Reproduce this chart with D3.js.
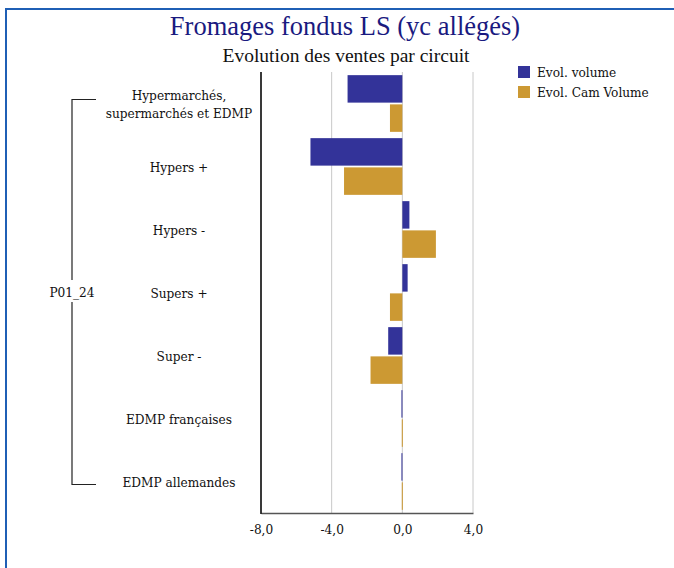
<!DOCTYPE html>
<html>
<head>
<meta charset="utf-8">
<script src="https://cdn.jsdelivr.net/npm/d3@7"></script>
<style>
  html, body { margin: 0; padding: 0; background: #fff; }
  svg { display: block; }
</style>
</head>
<body>
<svg id="chart" width="674" height="568"></svg>
<script>
// Sales evolution by distribution channel
const categories = [
  ["Hypermarchés,", "supermarchés et EDMP"],
  ["Hypers +"],
  ["Hypers -"],
  ["Supers +"],
  ["Super -"],
  ["EDMP françaises"],
  ["EDMP allemandes"]
];
const seriesNames = ["Evol. volume", "Evol. Cam Volume"];
const evolVolume    = [-3.1, -5.2, 0.4, 0.3, -0.8, -0.05, -0.05];
const evolCamVolume = [-0.7, -3.3, 1.9, -0.7, -1.8, -0.03, -0.03];
const xTicks = [-8, -4, 0, 4];
const groupLabel = "P01_24";
const colors = ["#333399", "#CC9933"];

const svg = d3.select("#chart");
const serif = "'Liberation Serif', 'DejaVu Serif', serif";
const labelFont = "'DejaVu Serif Condensed', 'DejaVu Serif', serif";

// Frame
svg.append("path")
  .attr("d", "M6,568 V9 H674")
  .attr("fill", "none")
  .attr("stroke", "#1f5fb5")
  .attr("stroke-width", 2);

// Titles
svg.append("text")
  .attr("x", 345).attr("y", 35)
  .attr("text-anchor", "middle")
  .attr("font-family", serif)
  .attr("font-size", 26.5)
  .attr("fill", "#1a1a80")
  .text("Fromages fondus LS (yc allégés)");
svg.append("text")
  .attr("x", 346).attr("y", 62)
  .attr("text-anchor", "middle")
  .attr("font-family", serif)
  .attr("font-size", 19.5)
  .attr("fill", "#111")
  .text("Evolution des ventes par circuit");

const plot = { left: 261, right: 473, top: 72, bottom: 513 };

const x = d3.scaleLinear().domain([-8, 4]).range([plot.left, plot.right]);
const y = d3.scaleBand().domain(d3.range(categories.length))
  .range([plot.top, plot.bottom]).paddingInner(0.1).paddingOuter(0.05);
const ySub = d3.scaleBand().domain([0, 1]).range([0, y.bandwidth()]).paddingInner(0.06);

// Vertical gridlines
svg.append("g")
  .selectAll("line")
  .data(xTicks)
  .join("line")
  .attr("x1", d => x(d)).attr("x2", d => x(d))
  .attr("y1", plot.top).attr("y2", plot.bottom)
  .attr("stroke", "#c8c8c8")
  .attr("stroke-width", 1);

// Bars
const series = [evolVolume, evolCamVolume];
series.forEach((vals, s) => {
  svg.append("g")
    .selectAll("rect")
    .data(vals)
    .join("rect")
    .attr("x", d => Math.min(x(0), x(d)))
    .attr("width", d => Math.max(1, Math.abs(x(d) - x(0))))
    .attr("y", (d, i) => y(i) + ySub(s))
    .attr("height", ySub.bandwidth())
    .attr("fill", colors[s]);
});

// X axis
const xAxis = d3.axisBottom(x)
  .tickValues(xTicks)
  .tickSize(0)
  .tickPadding(11)
  .tickFormat(d => d3.format(".1f")(d).replace(".", ",").replace("−", "-"));
const gx = svg.append("g")
  .attr("transform", `translate(0,${plot.bottom})`)
  .call(xAxis);
gx.select(".domain").attr("stroke", "#555").attr("stroke-width", 1.5);
gx.selectAll("text")
  .attr("font-family", labelFont)
  .attr("font-size", 13.5)
  .attr("fill", "#111");

// Y axis line
svg.append("line")
  .attr("x1", plot.left).attr("x2", plot.left)
  .attr("y1", plot.top).attr("y2", plot.bottom + 1)
  .attr("stroke", "#000").attr("stroke-width", 1.5);

// Category labels
const labelX = 179;
const catLabels = svg.append("g")
  .attr("font-family", labelFont)
  .attr("font-size", 13.5)
  .attr("fill", "#111")
  .attr("text-anchor", "middle");
categories.forEach((lines, i) => {
  const cy = y(i) + y.bandwidth() / 2;
  const t = catLabels.append("text").attr("x", labelX);
  const lh = 18;
  lines.forEach((ln, k) => {
    t.append("tspan")
      .attr("x", labelX)
      .attr("y", cy + 5 + (k - (lines.length - 1) / 2) * lh)
      .text(ln);
  });
});

// Group bracket
const bTop = y(0) + y.bandwidth() / 2 - 4;
const bBot = y(categories.length - 1) + y.bandwidth() / 2 + 3;
const bMid = (bTop + bBot) / 2;
const bx = 72;
svg.append("path")
  .attr("d", `M96,${bTop} H${bx} V${bMid - 12} M${bx},${bMid + 10} V${bBot} H96`)
  .attr("fill", "none")
  .attr("stroke", "#222")
  .attr("stroke-width", 1.2);
svg.append("text")
  .attr("x", bx).attr("y", bMid + 5)
  .attr("text-anchor", "middle")
  .attr("font-family", labelFont)
  .attr("font-size", 13.5)
  .attr("fill", "#111")
  .text(groupLabel);

// Legend
const legend = svg.append("g").attr("transform", "translate(518,66)");
seriesNames.forEach((name, i) => {
  const g = legend.append("g").attr("transform", `translate(0,${i * 20})`);
  g.append("rect").attr("width", 12).attr("height", 12).attr("fill", colors[i]);
  g.append("text")
    .attr("x", 19).attr("y", 11)
    .attr("font-family", labelFont)
    .attr("font-size", 13.5)
    .attr("fill", "#111")
    .text(name);
});
</script>
</body>
</html>
